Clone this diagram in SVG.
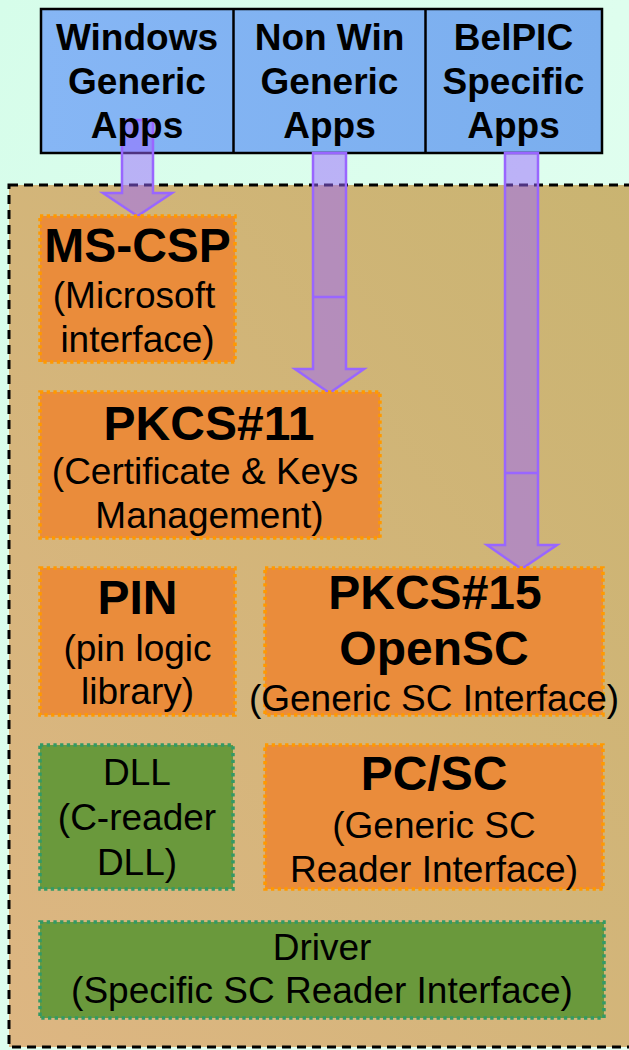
<svg xmlns="http://www.w3.org/2000/svg" width="629" height="1050" viewBox="0 0 629 1050">
<defs>
<linearGradient id="bg" x1="0" y1="0" x2="1" y2="1">
<stop offset="0" stop-color="#d6fdea"/>
<stop offset="1" stop-color="#e6fff2"/>
</linearGradient>
<linearGradient id="cont" x1="1" y1="0" x2="0" y2="1">
<stop offset="0" stop-color="#c9b471"/>
<stop offset="1" stop-color="#ddb682"/>
</linearGradient>
<linearGradient id="blue" x1="0" y1="0" x2="1" y2="0">
<stop offset="0" stop-color="#86b6f5"/>
<stop offset="1" stop-color="#7aaeee"/>
</linearGradient>
<style>
.t{font-family:"Liberation Sans",Arial,sans-serif;fill:#000;text-anchor:middle}
.hb{font-size:37px;font-weight:bold}
.h{font-size:48px;font-weight:bold}
.r{font-size:37px}
.or{fill:#ea8c3b;stroke:#ff9900;stroke-width:3.5;stroke-dasharray:3.3 3.4}
.gr{fill:#6a993c;stroke:#339966;stroke-width:3.5;stroke-dasharray:3.3 3.4}
.ar{fill:#9966ff;fill-opacity:0.5;stroke:#9966ff;stroke-width:2.5;stroke-linejoin:miter}
.dv{stroke:#9966ff;stroke-width:2.5}
</style>
</defs>
<rect x="0" y="0" width="629" height="1050" fill="url(#bg)"/>
<rect id="container" x="9" y="185" width="640" height="862" fill="url(#cont)" stroke="#000" stroke-width="3" stroke-dasharray="9 6"/>

<g id="apps">
<rect x="41" y="9" width="561" height="144" fill="url(#blue)" stroke="#000" stroke-width="2.5"/>
<line x1="233.5" y1="9" x2="233.5" y2="153" stroke="#000" stroke-width="2.5"/>
<line x1="425.5" y1="9" x2="425.5" y2="153" stroke="#000" stroke-width="2.5"/>
</g>

<g id="connectors">
<path class="ar" d="M122,120 H153 V193 H172 L137.5,216 L103,193 H122 Z"/>
<path class="ar" d="M313,153 H346 V369 H364 L329.5,393 L295,369 H313 Z"/>
<line class="dv" x1="313" y1="297" x2="346" y2="297"/>
<path class="ar" d="M505,153 H538 V545 H557 L521.5,569 L487,545 H505 Z"/>
<line class="dv" x1="505" y1="473" x2="538" y2="473"/>
</g>

<g id="app-windows">
<text class="t hb" x="137" y="50">Windows</text>
<text class="t hb" x="137" y="94">Generic</text>
<text class="t hb" x="137" y="138">Apps</text>
</g>
<g id="app-nonwin">
<text class="t hb" x="329.5" y="50">Non Win</text>
<text class="t hb" x="329.5" y="94">Generic</text>
<text class="t hb" x="329.5" y="138">Apps</text>
</g>
<g id="app-belpic">
<text class="t hb" x="513.5" y="50">BelPIC</text>
<text class="t hb" x="513.5" y="94">Specific</text>
<text class="t hb" x="513.5" y="138">Apps</text>
</g>

<g id="mscsp">
<rect class="or" x="40" y="216" width="195" height="146"/>
<text class="t h" x="137.5" y="262">MS-CSP</text>
<text class="t r" x="134" y="308">(Microsoft</text>
<text class="t r" x="137.5" y="352">interface)</text>
</g>

<g id="pkcs11">
<rect class="or" x="40" y="392" width="340" height="146"/>
<text class="t h" x="209" y="440">PKCS#11</text>
<text class="t r" x="205" y="484">(Certificate &amp; Keys</text>
<text class="t r" x="209.5" y="528">Management)</text>
</g>

<g id="pin">
<rect class="or" x="40" y="568" width="195" height="147"/>
<text class="t h" x="137.5" y="614">PIN</text>
<text class="t r" x="137.5" y="661">(pin logic</text>
<text class="t r" x="137.5" y="704">library)</text>
</g>

<g id="pkcs15">
<rect class="or" x="265" y="568" width="338" height="147"/>
<text class="t h" x="435" y="609">PKCS#15</text>
<text class="t h" x="434" y="665">OpenSC</text>
<text class="t r" x="434" y="711">(Generic SC Interface)</text>
</g>

<g id="dll">
<rect class="gr" x="40" y="745" width="193" height="144"/>
<text class="t r" x="137" y="785">DLL</text>
<text class="t r" x="137" y="830">(C-reader</text>
<text class="t r" x="137" y="875">DLL)</text>
</g>

<g id="pcsc">
<rect class="or" x="265" y="745" width="338" height="144"/>
<text class="t h" x="434" y="790">PC/SC</text>
<text class="t r" x="434" y="838">(Generic SC</text>
<text class="t r" x="434" y="882">Reader Interface)</text>
</g>

<g id="driver">
<rect class="gr" x="40" y="922" width="564" height="96"/>
<text class="t r" x="322" y="960">Driver</text>
<text class="t r" x="322" y="1003">(Specific SC Reader Interface)</text>
</g>
</svg>
